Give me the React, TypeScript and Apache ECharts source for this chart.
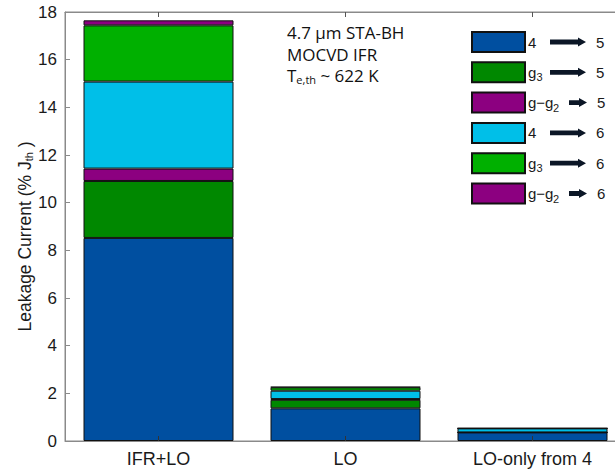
import React, { useEffect, useRef } from "react";
import * as echarts from "echarts";

const categories = ["IFR+LO", "LO", "LO-only from 4"];
const seriesNames = ["4→5", "g3→5", "g−g2→5", "4→6", "g3→6", "g−g2→6"];
const s45 = [8.52, 1.37, 0.36];
const sg35 = [2.39, 0.36, 0];
const sgg25 = [0.52, 0.03, 0];
const s46 = [3.65, 0.35, 0.17];
const sg36 = [2.36, 0.14, 0];
const sgg26 = [0.21, 0.02, 0];
const seriesValues = [s45, sg35, sgg25, s46, sg36, sgg26];
const colors = ["#004fa0", "#008800", "#8c0080", "#00bfe8", "#00b000", "#8c0080"];
const yTicks = { min: 0, max: 18, interval: 2 };

const arrowSvg = (w: number) =>
  "data:image/svg+xml;charset=utf-8," +
  encodeURIComponent(
    `<svg xmlns='http://www.w3.org/2000/svg' width='${w}' height='10'><polygon points='0,2.6 ${w - 8},2.6 ${w - 8},0.5 ${w},5 ${w - 8},9.5 ${w - 8},7.4 0,7.4' fill='#0b1626'/></svg>`
  );

const legendRich: Record<string, string> = {
  "4→5": "{l22|4}{arL|}{n|5}",
  "g3→5": "{g|g}{s14|3}{arL|}{n|5}",
  "g−g2→5": "{gg|g−g}{s17|2}{arS|}{n|5}",
  "4→6": "{l22|4}{arL|}{n|6}",
  "g3→6": "{g|g}{s14|3}{arL|}{n|6}",
  "g−g2→6": "{gg|g−g}{s17|2}{arS|}{n|6}",
};

export default function App() {
  const ref = useRef<HTMLDivElement>(null);
  useEffect(() => {
    if (!ref.current) return;
    const chart = echarts.init(ref.current, undefined, { renderer: "svg" });
    const font = "'Liberation Sans', Arial, sans-serif";
    const axisColor = "#8a8a8a";
    const tc = "#1a1a1a";
    chart.setOption({
      animation: false,
      textStyle: { fontFamily: font },
      grid: {
        left: 65,
        top: 12,
        width: 561,
        height: 429,
        show: true,
        borderColor: axisColor,
        borderWidth: 1,
        containLabel: false,
        outerBoundsMode: "none",
      },
      legend: {
        orient: "vertical",
        left: 471,
        top: 31,
        itemWidth: 53,
        itemHeight: 20,
        itemGap: 8.3,
        icon: "rect",
        padding: 0,
        data: seriesNames,
        formatter: (name: string) => legendRich[name] || name,
        textStyle: {
          fontFamily: font,
          fontSize: 15,
          color: tc,
          padding: [0, 0, 0, -2],
          rich: {
            l22: { fontSize: 15, width: 22, fontFamily: font, color: tc },
            g: { fontSize: 15, width: 8.5, fontFamily: font, color: tc },
            gg: { fontSize: 15, width: 25, fontFamily: font, color: tc },
            s14: { fontSize: 11, width: 13.5, padding: [10, 0, 0, 0], fontFamily: font, color: tc },
            s17: { fontSize: 11, width: 16, padding: [10, 0, 0, 0], fontFamily: font, color: tc },
            arL: { width: 36, height: 10, backgroundColor: { image: arrowSvg(36) } },
            arS: { width: 18, height: 10, backgroundColor: { image: arrowSvg(18) } },
            n: { fontSize: 15, padding: [0, 0, 0, 10], fontFamily: font, color: tc },
          },
        },
      },
      graphic: [
        {
          type: "text",
          left: 287,
          top: 22,
          style: {
            text: "4.7 μm STA-BH\nMOCVD IFR\n{a|T}{s|e,th}{a| ~ 622 K}",
            fontFamily: "'Open Sans', sans-serif",
            fontSize: 17,
            lineHeight: 21.5,
            fill: "#111",
            rich: {
              a: { fontFamily: "'Open Sans', sans-serif", fontSize: 17, lineHeight: 21.5, fill: "#111" },
              s: { fontFamily: "'Open Sans', sans-serif", fontSize: 11, padding: [8, 0, 0, 0], fill: "#111" },
            },
          },
        },
      ],
      xAxis: [
        {
          type: "category",
          data: categories,
          axisLine: { show: true, lineStyle: { color: axisColor } },
          axisTick: { show: true, inside: true, alignWithLabel: true, length: 5, lineStyle: { color: "#333" } },
          axisLabel: { fontSize: 18, color: tc, margin: 9, fontFamily: font },
          z: 10,
        },
        {
          type: "category",
          data: categories,
          position: "top",
          axisLine: { show: true, lineStyle: { color: axisColor } },
          axisTick: { show: true, inside: true, alignWithLabel: true, length: 5, lineStyle: { color: "#555" } },
          axisLabel: { show: false },
          z: 10,
        },
      ],
      yAxis: {
        type: "value",
        min: yTicks.min,
        max: yTicks.max,
        interval: yTicks.interval,
        name: "Leakage Current (% J{s|th} )",
        nameLocation: "middle",
        nameGap: 31,
        nameMoveOverlap: false,
        nameTextStyle: {
          fontSize: 17.5,
          color: tc,
          fontFamily: font,
          padding: [0, 20, 0, 0],
          rich: {
            s: { fontSize: 11, padding: [8, 0, 0, 0], fontFamily: font, color: tc },
          },
        },
        axisLine: { show: true, lineStyle: { color: axisColor } },
        axisTick: { show: true, inside: true, length: 5, lineStyle: { color: axisColor } },
        axisLabel: { fontSize: 17, color: tc, margin: 8, fontFamily: font },
        splitLine: { show: false },
      },
      series: seriesNames.map((name, i) => ({
        name,
        type: "bar",
        stack: "total",
        barWidth: 150,
        data: seriesValues[i],
        itemStyle: { color: colors[i], borderColor: "#111", borderWidth: 1 },
      })),
    });
    return () => chart.dispose();
  }, []);
  return <div ref={ref} style={{ width: 615, height: 470, position: "absolute", left: 0, top: 0 }} />;
}
